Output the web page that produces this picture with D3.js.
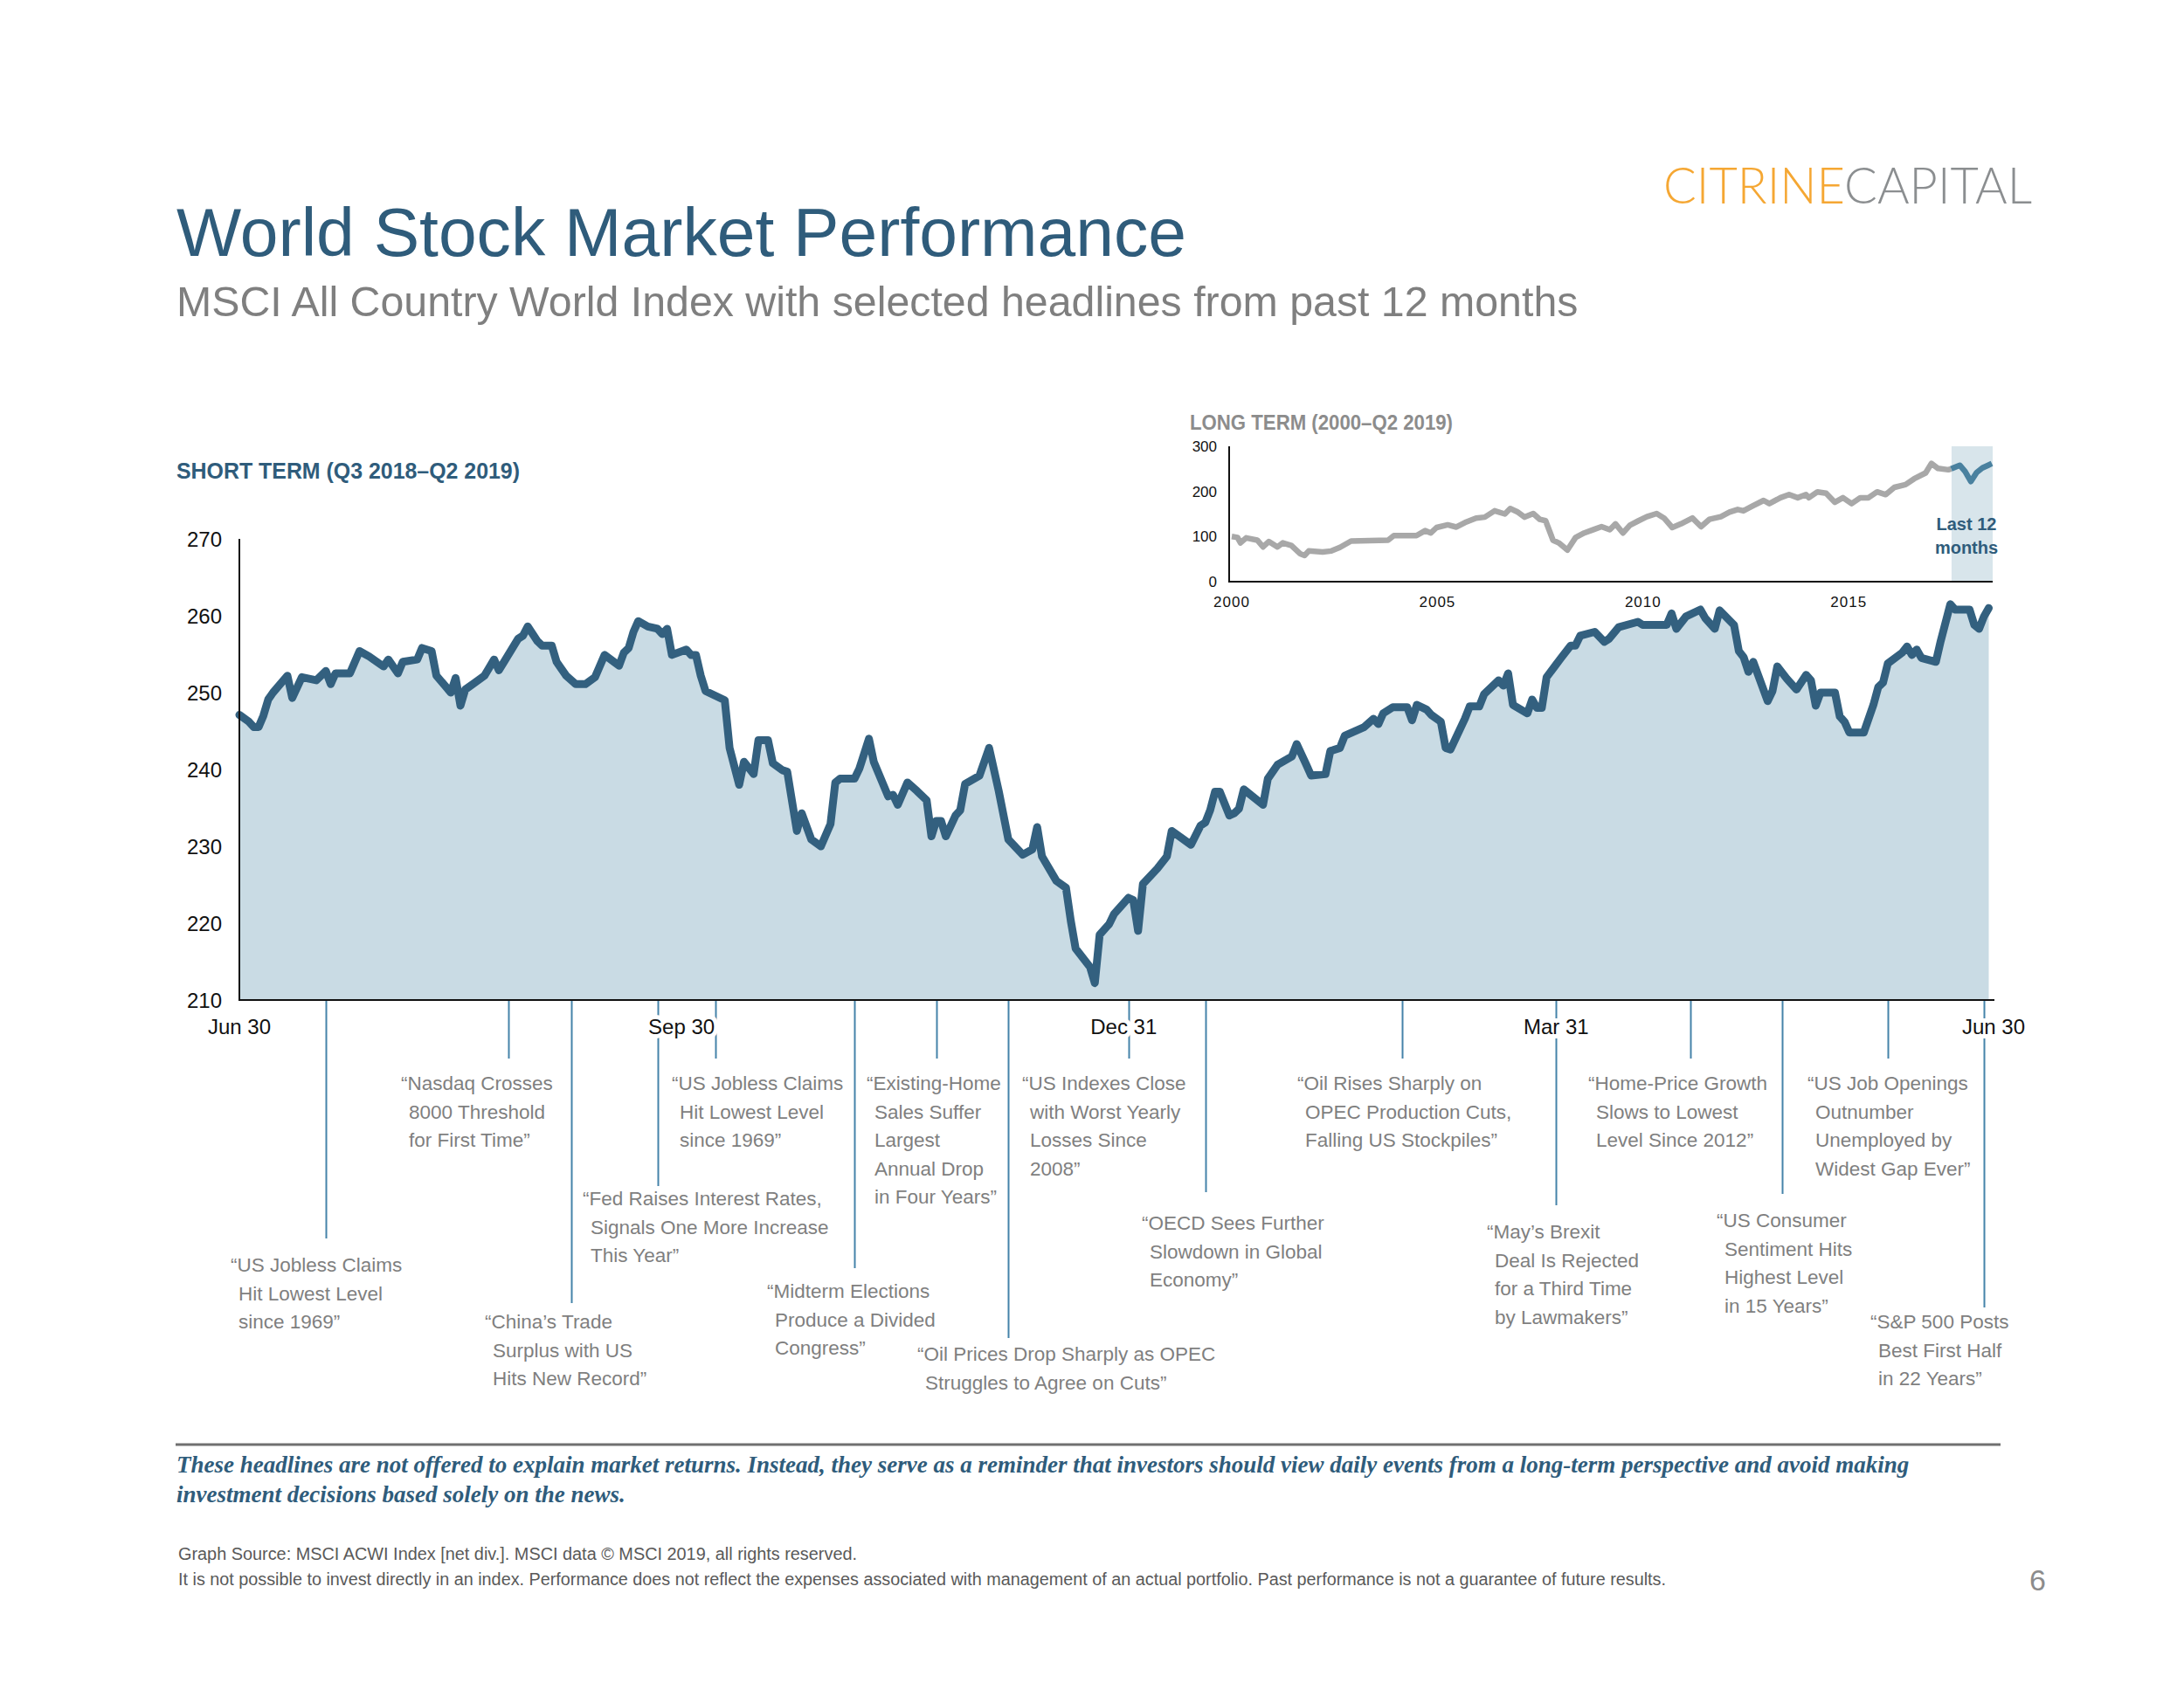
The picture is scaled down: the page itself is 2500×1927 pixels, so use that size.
<!DOCTYPE html>
<html><head><meta charset="utf-8">
<script src="https://cdn.jsdelivr.net/npm/d3@7"></script>
<style>body{margin:0;background:#fff} svg{display:block}</style>
</head><body>
<svg id="c" width="2500" height="1927"></svg>
<script>
// ---------------- DATA ----------------
// Short term: MSCI ACWI, days since 2018-06-30, index level
const stDays = [0,2,3,4,5,6,7,10,11,13,16,18,19,20,23,25,27,30,31,33,34,37,38,40,41,44,45,46,47,49,51,53,54,58,59,60,62,63,65,66,68,70,72,74,76,79,80,81,82,83,85,87,88,89,90,93,94,95,96,97,101,102,104,105,107,108,110,111,113,114,116,117,119,121,123,124,125,128,129,131,132,135,136,137,139,141,143,144,145,146,147,149,150,151,154,156,158,160,163,165,166,167,170,172,173,174,177,178,179,181,182,185,186,187,188,191,193,194,198,200,201,202,203,204,206,207,208,209,213,214,216,219,220,222,223,226,227,229,230,234,236,237,238,240,243,244,245,247,248,250,251,252,255,256,258,259,262,263,264,265,268,269,270,271,272,275,277,278,279,282,284,285,287,291,292,297,298,299,301,304,305,307,308,311,312,313,314,315,318,319,320,322,324,326,327,328,329,332,333,334,335,338,340,341,342,343,346,347,348,349,350,353,354,356,357,360,361,362,363,364];
const stValues = [247.1,246.2,245.5,245.5,247,249.1,250,252.2,249.3,252,251.6,252.8,251.1,252.5,252.5,255.4,254.7,253.4,254.3,252.5,254.0,254.3,255.8,255.4,252.2,250,251.9,248.3,250.4,251.3,252.2,254.3,252.9,257,257.4,258.6,256.7,256.1,256.1,254,252.2,251.1,251.1,252,254.9,253.5,255.2,255.8,257.9,259.3,258.6,258.3,257.6,258.3,254.9,255.6,254.9,254.9,252.2,250.2,249,242.8,238,241,239.4,243.8,243.8,240.8,239.9,239.7,232,234.3,230.9,230,232.9,238.3,238.8,238.8,240.1,244,241,236.5,236.7,235.4,238.3,237.2,236,231.3,233.3,233.3,231.3,234,234.7,238.1,239.2,242.8,237.2,230.9,228.9,229.6,232.5,228.7,225.5,224.6,220.3,216.7,214.3,212.2,218.5,219.9,221.2,223.3,223,219,225.1,227.1,228.7,232,230.2,232.7,233.1,234.7,237.1,237.1,234,234.3,234.9,237.4,235.4,238.8,240.6,241.7,243.3,240.6,239.2,239.4,242.4,242.8,244.4,245.5,246.6,245.9,247.3,248.1,248.1,246.4,248.4,247.8,247.1,246.2,242.8,242.6,246.6,248.2,248.2,249.8,251.6,250.9,252.5,248.4,247.3,249.1,248,248,252,254.5,256.1,256.1,257.4,257.9,256.6,257,258.5,259.2,258.8,258.8,260.3,258.3,259.9,260.8,259.7,258.3,260.7,258.8,255.4,254.6,252.7,254,248.9,250.2,253.4,251.8,250.4,252.3,251.6,248.3,250,250,246.9,246.2,244.8,244.8,248.4,250.7,251.3,253.8,255.2,256,254.9,255.6,254.5,254,256.7,261.5,260.8,260.8,258.8,258.3,259.9,261];

const yTicks = [210,220,230,240,250,260,270];
const xTickDates = ["2018-06-30","2018-09-30","2018-12-31","2019-03-31","2019-06-30"];
const xTickLabels = ["Jun 30","Sep 30","Dec 31","Mar 31","Jun 30"];

// Headlines
const headlineDates = ["2018-07-18","2018-08-25","2018-09-07","2018-09-25","2018-10-07","2018-11-05","2018-11-22","2018-12-07","2019-01-01","2019-01-17","2019-02-27","2019-03-31","2019-04-28","2019-05-17","2019-06-08","2019-06-28"];
const headlineTexts = [
  ["\u201CUS Jobless Claims","Hit Lowest Level","since 1969\u201D"],
  ["\u201CNasdaq Crosses","8000 Threshold","for First Time\u201D"],
  ["\u201CChina\u2019s Trade","Surplus with US","Hits New Record\u201D"],
  ["\u201CFed Raises Interest Rates,","Signals One More Increase","This Year\u201D"],
  ["\u201CUS Jobless Claims","Hit Lowest Level","since 1969\u201D"],
  ["\u201CMidterm Elections","Produce a Divided","Congress\u201D"],
  ["\u201CExisting-Home","Sales Suffer","Largest","Annual Drop","in Four Years\u201D"],
  ["\u201COil Prices Drop Sharply as OPEC","Struggles to Agree on Cuts\u201D"],
  ["\u201CUS Indexes Close","with Worst Yearly","Losses Since","2008\u201D"],
  ["\u201COECD Sees Further","Slowdown in Global","Economy\u201D"],
  ["\u201COil Rises Sharply on","OPEC Production Cuts,","Falling US Stockpiles\u201D"],
  ["\u201CMay\u2019s Brexit","Deal Is Rejected","for a Third Time","by Lawmakers\u201D"],
  ["\u201CHome-Price Growth","Slows to Lowest","Level Since 2012\u201D"],
  ["\u201CUS Consumer","Sentiment Hits","Highest Level","in 15 Years\u201D"],
  ["\u201CUS Job Openings","Outnumber","Unemployed by","Widest Gap Ever\u201D"],
  ["\u201CS&P 500 Posts","Best First Half","in 22 Years\u201D"]
];

// Long term (inset), position on the inset's year axis, index level
const ltYear = [2000.00,2000.14,2000.21,2000.35,2000.62,2000.76,2000.90,2001.11,2001.24,2001.45,2001.66,2001.77,2001.87,2002.21,2002.42,2002.63,2002.90,2003.80,2003.94,2004.49,2004.70,2004.84,2004.98,2005.25,2005.46,2005.67,2005.94,2006.15,2006.39,2006.64,2006.77,2006.94,2007.12,2007.33,2007.49,2007.63,2007.81,2007.95,2008.16,2008.36,2008.57,2008.78,2008.99,2009.19,2009.33,2009.51,2009.68,2009.89,2010.09,2010.33,2010.51,2010.71,2010.92,2011.20,2011.41,2011.61,2011.89,2012.10,2012.30,2012.44,2012.65,2012.93,2013.07,2013.34,2013.55,2013.76,2013.96,2014.03,2014.24,2014.45,2014.66,2014.86,2015.07,2015.28,2015.48,2015.69,2015.90,2016.11,2016.38,2016.59,2016.87,2017.01,2017.17,2017.42,2017.49,2017.70,2017.83,2017.97,2018.11,2018.25,2018.39,2018.48];
const ltValue = [100,98,86,97,92,77,89,77,86,80,62,58,68,66,68,76,90,92,102,102,113,108,120,126,121,131,141,143,157,150,162,155,143,151,138,135,92,86,70,98,108,115,122,115,128,108,125,135,144,151,141,120,128,141,122,138,144,154,160,157,167,180,173,186,193,186,193,186,199,196,176,186,173,186,186,199,193,209,215,228,241,262,251,248,250,258,244,222,242,252,258,262];
const ltYTicks = [0,100,200,300];
const ltXTicks = [2000,2005,2010,2015];
const ltHighlight = [2017.5, 2018.5];

// ---------------- DRAWING ----------------
const SANS = '"Liberation Sans", Arial, Helvetica, sans-serif';
const BLUE = '#2f5c7b';
const LINE = '#33607f';
const FILL = '#c9dbe4';
const GRAY = '#7f7f7f';
const svg = d3.select('#c');
const parse = d3.timeParse('%Y-%m-%d');
const start = new Date(2018, 5, 30);

// Header
svg.append('text').attr('x', 202).attr('y', 293).attr('font-family', SANS).attr('font-size', 78.6)
  .attr('fill', BLUE).text('World Stock Market Performance');
svg.append('text').attr('x', 202).attr('y', 362).attr('font-family', SANS).attr('font-size', 48.3)
  .attr('fill', GRAY).text('MSCI All Country World Index with selected headlines from past 12 months');
const logo = svg.append('text').attr('x', 1904).attr('y', 233).attr('font-family', 'Lato, "Open Sans", sans-serif')
  .attr('font-weight', 300).attr('font-size', 57).attr('textLength', 422).attr('lengthAdjust', 'spacingAndGlyphs');
logo.append('tspan').attr('fill', '#f5a733').text('CITRINE');
logo.append('tspan').attr('fill', '#8b8e90').text('CAPITAL');

svg.append('text').attr('x', 202).attr('y', 548).attr('font-family', SANS).attr('font-weight', 'bold')
  .attr('font-size', 26).attr('fill', BLUE).attr('textLength', 393).attr('lengthAdjust', 'spacingAndGlyphs')
  .text('SHORT TERM (Q3 2018\u2013Q2 2019)');

// Main chart scales
const x = d3.scaleTime().domain([parse(xTickDates[0]), parse(xTickDates[xTickDates.length - 1])]).range([274, 2282]);
const y = d3.scaleLinear().domain([210, 270]).range([1145, 617]);
const st = stDays.map((d, i) => ({ date: d3.timeDay.offset(start, d), v: stValues[i] }));

svg.append('path').datum(st).attr('fill', FILL)
  .attr('d', d3.area().x(d => x(d.date)).y0(y(210)).y1(d => y(d.v)));
svg.append('path').datum(st).attr('fill', 'none').attr('stroke', LINE).attr('stroke-width', 9)
  .attr('stroke-linejoin', 'round').attr('stroke-linecap', 'round')
  .attr('d', d3.line().x(d => x(d.date)).y(d => y(d.v)));

// Headline callouts (layout: line end y, text x, first-line centre y)
const calloutLayout = [
  [1418, 264, 1448], [1212, 459, 1240], [1492, 555, 1513], [1358, 667, 1372],
  [1212, 769, 1240], [1452, 878, 1478], [1212, 992, 1240], [1532, 1050, 1550],
  [1212, 1170, 1240], [1365, 1307, 1400], [1212, 1485, 1240], [1380, 1702, 1410],
  [1212, 1818, 1240], [1367, 1965, 1397], [1212, 2069, 1240], [1497, 2141, 1513]
];
const cg = svg.append('g');
headlineDates.forEach((ds, i) => {
  const hx = Math.round(x(parse(ds))) + 0.5;
  const [endY, tx, ty] = calloutLayout[i];
  cg.append('line').attr('x1', hx).attr('x2', hx).attr('y1', y(210)).attr('y2', endY)
    .attr('stroke', '#4583a9').attr('stroke-width', 2);
  const t = cg.append('text').attr('font-family', SANS).attr('font-size', 22.5).attr('fill', GRAY);
  headlineTexts[i].forEach((ln, j) => {
    t.append('tspan').attr('x', tx + (j === 0 ? 0 : 9)).attr('y', ty + 8 + j * 32.5).text(ln);
  });
});

// Axes
svg.append('line').attr('x1', 274).attr('x2', 274).attr('y1', y(270)).attr('y2', y(210))
  .attr('stroke', '#111').attr('stroke-width', 2);
svg.append('line').attr('x1', 273).attr('x2', 2283).attr('y1', y(210)).attr('y2', y(210))
  .attr('stroke', '#111').attr('stroke-width', 2);
svg.append('g').selectAll('text').data(yTicks).join('text')
  .attr('x', 254).attr('y', d => y(d)).attr('dy', '0.36em').attr('text-anchor', 'end')
  .attr('font-family', SANS).attr('font-size', 24).attr('fill', '#111').text(d => d);
svg.append('g').selectAll('text').data(xTickDates).join('text')
  .attr('x', d => x(parse(d))).attr('y', 1184).attr('text-anchor', 'middle')
  .attr('font-family', SANS).attr('font-size', 24).attr('fill', '#111')
  .attr('stroke', '#fff').attr('stroke-width', 10).attr('paint-order', 'stroke')
  .text((d, i) => xTickLabels[i]);

// Inset long-term chart
const lx = d3.scaleLinear().domain([2000, 2018.5]).range([1410, 2281]);
const ly = d3.scaleLinear().domain([0, 300]).range([666, 511]);
svg.append('text').attr('x', 1362).attr('y', 492).attr('font-family', SANS).attr('font-weight', 'bold')
  .attr('font-size', 23).attr('fill', '#8c8c8c').attr('textLength', 301).attr('lengthAdjust', 'spacingAndGlyphs')
  .text('LONG TERM (2000\u2013Q2 2019)');
svg.append('rect').attr('x', lx(ltHighlight[0])).attr('y', ly(300)).attr('width', lx(ltHighlight[1]) - lx(ltHighlight[0]))
  .attr('height', ly(0) - ly(300)).attr('fill', '#d8e5eb');
const lt = ltYear.map((yr, i) => ({ yr, v: ltValue[i] }));
const ltLine = d3.line().x(d => lx(d.yr)).y(d => ly(d.v));
svg.append('path').datum(lt.filter(d => d.yr <= 2017.5)).attr('fill', 'none').attr('stroke', '#a8a8a8')
  .attr('stroke-width', 6.5).attr('stroke-linejoin', 'round').attr('d', ltLine);
svg.append('path').datum(lt.filter(d => d.yr >= 2017.49)).attr('fill', 'none').attr('stroke', '#4a819f')
  .attr('stroke-width', 6.5).attr('stroke-linejoin', 'round').attr('d', ltLine);
svg.append('line').attr('x1', 1407).attr('x2', 1407).attr('y1', ly(300)).attr('y2', ly(0)).attr('stroke', '#111').attr('stroke-width', 2);
svg.append('line').attr('x1', 1406).attr('x2', 2281).attr('y1', ly(0)).attr('y2', ly(0)).attr('stroke', '#111').attr('stroke-width', 2);
svg.append('g').selectAll('text').data(ltYTicks).join('text')
  .attr('x', 1393).attr('y', d => ly(d)).attr('dy', '0.36em').attr('text-anchor', 'end')
  .attr('font-family', SANS).attr('font-size', 17).attr('fill', '#111').text(d => d);
svg.append('g').selectAll('text').data(ltXTicks).join('text')
  .attr('x', d => lx(d)).attr('y', 695).attr('text-anchor', 'middle').attr('letter-spacing', 1)
  .attr('font-family', SANS).attr('font-size', 17).attr('fill', '#111').text(d => d);
const l12 = svg.append('text').attr('font-family', SANS).attr('font-weight', 'bold').attr('font-size', 20)
  .attr('fill', BLUE).attr('text-anchor', 'middle');
l12.append('tspan').attr('x', 2251).attr('y', 607).text('Last 12');
l12.append('tspan').attr('x', 2251).attr('y', 634).text('months');

// Footer
svg.append('line').attr('x1', 201).attr('x2', 2290).attr('y1', 1654).attr('y2', 1654).attr('stroke', '#707070').attr('stroke-width', 3);
const note = svg.append('text').attr('font-family', '"Liberation Serif", "Times New Roman", serif')
  .attr('font-style', 'italic').attr('font-weight', 'bold').attr('font-size', 27).attr('fill', BLUE);
note.append('tspan').attr('x', 202).attr('y', 1686)
  .text('These headlines are not offered to explain market returns. Instead, they serve as a reminder that investors should view daily events from a long-term perspective and avoid making');
note.append('tspan').attr('x', 202).attr('y', 1720).text('investment decisions based solely on the news.');
svg.append('text').attr('x', 204).attr('y', 1786).attr('font-family', SANS).attr('font-size', 20).attr('fill', '#595959')
  .attr('textLength', 777).attr('lengthAdjust', 'spacingAndGlyphs')
  .text('Graph Source: MSCI ACWI Index [net div.]. MSCI data \u00A9 MSCI 2019, all rights reserved.');
svg.append('text').attr('x', 204).attr('y', 1815).attr('font-family', SANS).attr('font-size', 20).attr('fill', '#595959')
  .attr('textLength', 1703).attr('lengthAdjust', 'spacingAndGlyphs')
  .text('It is not possible to invest directly in an index. Performance does not reflect the expenses associated with management of an actual portfolio. Past performance is not a guarantee of future results.');
svg.append('text').attr('x', 2342).attr('y', 1821).attr('text-anchor', 'end').attr('font-family', SANS)
  .attr('font-size', 34).attr('fill', '#8c8c8c').text('6');
</script></body></html>
